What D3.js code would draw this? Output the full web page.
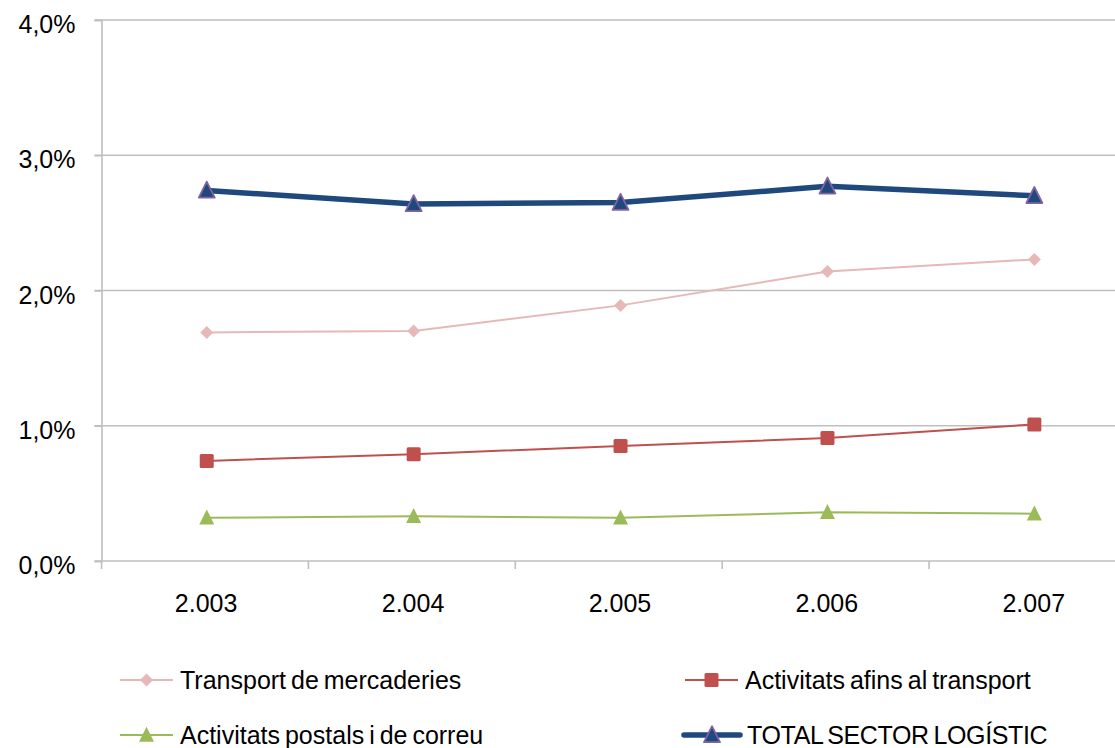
<!DOCTYPE html>
<html><head><meta charset="utf-8">
<script src="https://cdn.jsdelivr.net/npm/d3@7"></script>
<style>
html,body{margin:0;padding:0;background:#fff;}
svg{display:block;font-family:"Liberation Sans",Arial,sans-serif;}
</style></head>
<body>
<script>
const years = ["2.003","2.004","2.005","2.006","2.007"];
const yTicks = [0,1,2,3,4];
const transport = [1.69,1.70,1.89,2.14,2.23];
const afins = [0.74,0.79,0.85,0.91,1.01];
const postals = [0.32,0.33,0.32,0.36,0.35];
const total = [2.74,2.64,2.65,2.77,2.70];

const seriesNames = ["Transport de mercaderies","Activitats afins al transport","Activitats postals i de correu","TOTAL SECTOR LOGÍSTIC"];

(function(){
const W=1115,H=748;
const svg=d3.select("body").append("svg").attr("width",W).attr("height",H);

const pLeft=101.5, step=206.9, pTop=20, pBottom=561;
const x=d3.scaleBand().domain(years).range([pLeft,pLeft+step*years.length]).paddingInner(0).paddingOuter(0);
const y=d3.scaleLinear().domain([0,4]).range([pBottom,pTop]);
const cx=d=>x(d)+x.bandwidth()/2+1.8;

const grid="#BFBFBF";
svg.append("g").selectAll("line").data(yTicks.filter(t=>t>0)).join("line")
 .attr("x1",pLeft-7).attr("x2",W).attr("y1",d=>y(d)).attr("y2",d=>y(d))
 .attr("stroke",grid).attr("stroke-width",1.6);
const yAx=svg.append("g").attr("transform",`translate(${pLeft},0)`)
 .call(d3.axisLeft(y).tickValues(yTicks).tickSize(7).tickPadding(0).tickFormat(d=>d3.format(".1f")(d).replace(".",",")+"%"));
yAx.select(".domain").attr("stroke",grid).attr("stroke-width",1.6);
yAx.selectAll(".tick line").attr("stroke",grid).attr("stroke-width",1.6);
yAx.selectAll(".tick text").attr("x",-26).attr("dy",null).attr("y",12.5)
 .attr("font-size",25).attr("fill","#000").attr("font-family","Liberation Sans, Arial, sans-serif");

const xAx=svg.append("g").attr("transform",`translate(1.2,${pBottom})`)
 .call(d3.axisBottom(x).tickSize(0).tickPadding(0));
xAx.select(".domain").remove();
svg.append("line").attr("x1",pLeft-7).attr("x2",W).attr("y1",pBottom).attr("y2",pBottom).attr("stroke",grid).attr("stroke-width",1.6);
svg.append("g").selectAll("line").data(d3.range(years.length+1)).join("line")
 .attr("x1",i=>pLeft+i*step).attr("x2",i=>pLeft+i*step).attr("y1",pBottom).attr("y2",pBottom+8)
 .attr("stroke",grid).attr("stroke-width",1.6);
xAx.selectAll(".tick text").attr("y",51).attr("dy",null)
 .attr("font-size",25).attr("fill","#000").attr("font-family","Liberation Sans, Arial, sans-serif");

const line=d3.line().x((d,i)=>cx(years[i])).y(d=>y(d));

function drawMarker(g,type,fill,stroke,size){
  if(type==="diamond"){
    const r=size/2;
    g.append("path").attr("d",`M0,${-r}L${r},0L0,${r}L${-r},0Z`).attr("fill",fill);
  } else if(type==="square"){
    g.append("rect").attr("x",-size/2).attr("y",-size/2).attr("width",size).attr("height",size).attr("rx",1.5)
     .attr("fill",fill);
  } else if(type==="triangle"){
    const h=size, w=size;
    g.append("path").attr("d",`M0,${-h*0.55}L${w/2},${h*0.45}L${-w/2},${h*0.45}Z`)
     .attr("fill",fill).attr("stroke",stroke||"none").attr("stroke-width",stroke?1.8:0).attr("stroke-linejoin","round");
  }
}

const series=[
 {name:seriesNames[0],vals:transport,color:"#E6B9B8",width:2,marker:"diamond",mfill:"#E6B9B8",mstroke:null,msize:13},
 {name:seriesNames[1],vals:afins,color:"#C0504D",width:2,marker:"square",mfill:"#C0504D",mstroke:null,msize:14},
 {name:seriesNames[2],vals:postals,color:"#9BBB59",width:2,marker:"triangle",mfill:"#9BBB59",mstroke:null,msize:15},
 {name:seriesNames[3],vals:total,color:"#1F497D",width:5.5,marker:"triangle",mfill:"#1F497D",mstroke:"#8064A2",msize:16}
];

series.forEach(s=>{
  svg.append("path").attr("d",line(s.vals)).attr("fill","none").attr("stroke",s.color).attr("stroke-width",s.width).attr("stroke-linejoin","round");
  s.vals.forEach((v,i)=>{
    const g=svg.append("g").attr("transform",`translate(${cx(years[i])},${y(v)})`);
    drawMarker(g,s.marker,s.mfill,s.mstroke,s.msize);
  });
});

const legPos=[{x:120,y:680},{x:685,y:680},{x:120,y:735},{x:684,y:735}];
series.forEach((s,i)=>{
  const p=legPos[i];
  const g=svg.append("g");
  const len = i===3?56:53;
  g.append("line").attr("x1",p.x).attr("x2",p.x+len).attr("y1",p.y).attr("y2",p.y)
   .attr("stroke",s.color).attr("stroke-width",s.width).attr("stroke-linecap",i===3?"round":"butt");
  const m=g.append("g").attr("transform",`translate(${p.x+len/2},${p.y})`);
  drawMarker(m,s.marker,s.mfill,s.mstroke,s.msize);
  const t=g.append("text").attr("x",p.x+len+7).attr("y",p.y+9).attr("font-size",25).attr("fill","#000")
   .attr("word-spacing",-2).text(s.name);
  if(i===3) t.attr("letter-spacing",-0.35).attr("word-spacing",-2);
});
})();
</script>
</body></html>
